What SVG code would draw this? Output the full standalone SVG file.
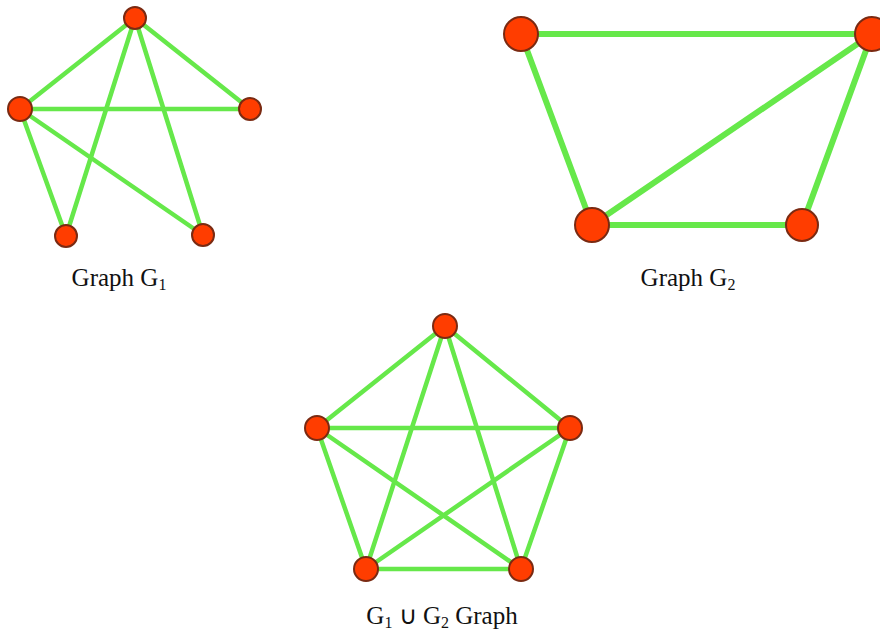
<svg xmlns="http://www.w3.org/2000/svg" width="880" height="636" viewBox="0 0 880 636">
<style>
.e{stroke:#66e84a;stroke-width:4.5;stroke-linecap:round;fill:none}
.e2{stroke-width:6}
.n{fill:#ff3d00;stroke:#7a2a12;stroke-width:2}
.t{font-family:"Liberation Serif","Times New Roman",serif;font-size:25px;fill:#111;text-anchor:middle}
.s{font-size:16px}
</style>
<rect width="880" height="636" fill="#fff"/>
<g id="connectors">
<g id="g1-edges" class="e">
<line x1="135" y1="18" x2="20" y2="109"/>
<line x1="135" y1="18" x2="250" y2="109"/>
<line x1="135" y1="18" x2="66" y2="236"/>
<line x1="135" y1="18" x2="203" y2="235"/>
<line x1="20" y1="109" x2="250" y2="109"/>
<line x1="20" y1="109" x2="66" y2="236"/>
<line x1="20" y1="109" x2="203" y2="235"/>
</g>
<g id="g2-edges" class="e e2">
<line x1="521" y1="34" x2="872" y2="34"/>
<line x1="521" y1="34" x2="592" y2="225"/>
<line x1="872" y1="34" x2="592" y2="225"/>
<line x1="872" y1="34" x2="802" y2="225"/>
<line x1="592" y1="225" x2="802" y2="225"/>
</g>
<g id="g3-edges" class="e">
<line x1="445" y1="326" x2="317" y2="428"/>
<line x1="445" y1="326" x2="570" y2="428"/>
<line x1="445" y1="326" x2="366" y2="569"/>
<line x1="445" y1="326" x2="521" y2="569"/>
<line x1="317" y1="428" x2="570" y2="428"/>
<line x1="317" y1="428" x2="366" y2="569"/>
<line x1="317" y1="428" x2="521" y2="569"/>
<line x1="570" y1="428" x2="366" y2="569"/>
<line x1="570" y1="428" x2="521" y2="569"/>
<line x1="366" y1="569" x2="521" y2="569"/>
</g>
</g>
<g id="g1-top"><circle class="n" cx="135" cy="18" r="11"/></g>
<g id="g1-left"><circle class="n" cx="20" cy="109" r="12"/></g>
<g id="g1-right"><circle class="n" cx="250" cy="109" r="11"/></g>
<g id="g1-bl"><circle class="n" cx="66" cy="236" r="11"/></g>
<g id="g1-br"><circle class="n" cx="203" cy="235" r="11"/></g>
<g id="g2-tl"><circle class="n" cx="521" cy="34" r="17"/></g>
<g id="g2-tr"><circle class="n" cx="872" cy="34" r="17"/></g>
<g id="g2-bl"><circle class="n" cx="592" cy="225" r="17"/></g>
<g id="g2-br"><circle class="n" cx="802" cy="225" r="16"/></g>
<g id="g3-top"><circle class="n" cx="445" cy="326" r="12"/></g>
<g id="g3-left"><circle class="n" cx="317" cy="428" r="12"/></g>
<g id="g3-right"><circle class="n" cx="570" cy="428" r="12"/></g>
<g id="g3-bl"><circle class="n" cx="366" cy="569" r="12"/></g>
<g id="g3-br"><circle class="n" cx="521" cy="569" r="12"/></g>
<g id="labels" class="t">
<text x="119" y="286">Graph G<tspan class="s" dy="4">1</tspan></text>
<text x="688" y="286">Graph G<tspan class="s" dy="4">2</tspan></text>
<text x="442" y="624">G<tspan class="s" dy="4">1</tspan><tspan dy="-4"> ∪ G</tspan><tspan class="s" dy="4">2</tspan><tspan dy="-4"> Graph</tspan></text>
</g>
</svg>
